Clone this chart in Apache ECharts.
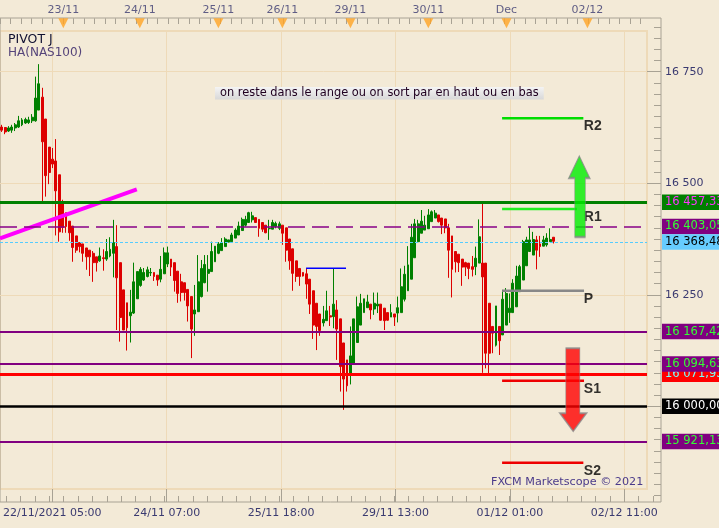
<!DOCTYPE html>
<html><head><meta charset="utf-8">
<script src="https://cdn.jsdelivr.net/npm/echarts@6.0.0/dist/echarts.min.js"></script>
<style>html,body{margin:0;padding:0;background:#F3EAD7;}#c{width:719px;height:528px;}</style>
</head><body><div id="c"></div><script>
// ---- Heikin-Ashi hourly candles (NAS100) ----
const opens = [16626,16625,16617,16619,16624,16626,16631,16635,16636,16640,
16640,16664,16693,16644,16581,16554,16550,16519,16456,16434,
16415,16404,16382,16367,16364,16355,16350,16343,16335,16326,
16333,16330,16337,16343,16358,16322,16261,16232,16203,16209,
16241,16271,16283,16291,16299,16300,16294,16285,16297,16319,
16330,16322,16303,16279,16277,16262,16246,16207,16212,16246,
16277,16298,16302,16324,16343,16349,16358,16368,16369,16377,
16384,16394,16406,16412,16418,16423,16419,16412,16406,16398,
16397,16403,16399,16406,16400,16375,16353,16326,16309,16300,
16297,16285,16259,16231,16207,16187,16192,16203,16201,16216,
16196,16142,16104,16074,16096,16143,16182,16210,16221,16229,
16218,16225,16229,16220,16210,16200,16207,16209,16210,16240,
16259,16285,16333,16369,16388,16395,16398,16414,16422,16429,
16422,16420,16400,16382,16347,16341,16330,16322,16321,16313,
16313,16321,16321,16321,16231,16179,16137,16179,16160,16182,
16210,16210,16223,16257,16283,16315,16347,16339,16373,16364,
16359,16362,16369,16379];
const closes = [16619,16615,16624,16626,16631,16640,16642,16643,16642,16648,
16691,16723,16593,16517,16524,16543,16483,16391,16401,16403,
16389,16356,16350,16358,16343,16335,16335,16322,16322,16337,
16331,16347,16352,16367,16288,16199,16171,16176,16211,16279,
16302,16307,16300,16306,16300,16291,16283,16307,16344,16344,
16312,16282,16253,16255,16255,16225,16173,16216,16279,16309,
16318,16307,16347,16359,16364,16367,16375,16373,16384,16395,
16404,16419,16419,16434,16427,16412,16399,16397,16389,16399,
16412,16410,16409,16388,16350,16326,16298,16291,16291,16292,
16274,16229,16182,16179,16170,16195,16214,16200,16229,16173,
16089,16061,16046,16113,16196,16223,16231,16241,16234,16216,
16231,16229,16193,16192,16193,16210,16200,16221,16268,16296,
16317,16379,16409,16409,16415,16406,16429,16436,16433,16414,
16406,16400,16350,16307,16324,16322,16312,16312,16309,16307,
16332,16380,16290,16119,16119,16164,16225,16147,16240,16253,
16220,16276,16292,16313,16369,16373,16373,16374,16350,16358,
16373,16377,16374,16370];
const lows = [16615,16610,16615,16613,16617,16624,16628,16633,16633,16635,
16638,16664,16460,16470,16498,16534,16383,16369,16389,16389,
16371,16324,16344,16345,16324,16306,16292,16279,16302,16324,
16304,16326,16334,16289,16171,16145,16171,16125,16143,16207,
16241,16268,16281,16289,16292,16281,16270,16278,16297,16312,
16292,16257,16232,16235,16237,16190,16108,16158,16212,16244,
16276,16257,16302,16324,16341,16349,16358,16368,16369,16377,
16384,16394,16403,16412,16412,16412,16380,16391,16388,16373,
16397,16399,16395,16362,16324,16306,16259,16279,16270,16291,
16241,16207,16151,16126,16158,16179,16192,16180,16175,16104,
16033,15992,16033,16049,16096,16143,16182,16210,16221,16195,
16205,16209,16192,16171,16192,16200,16180,16188,16210,16235,
16259,16285,16333,16369,16388,16395,16398,16414,16422,16412,
16386,16388,16288,16244,16300,16301,16270,16292,16285,16291,
16294,16321,16075,16085,16074,16119,16134,16115,16160,16182,
16187,16210,16223,16257,16283,16315,16347,16339,16307,16335,
16359,16358,16369,16365];
const highs = [16631,16626,16628,16631,16635,16651,16646,16647,16649,16655,
16739,16767,16714,16644,16581,16579,16599,16519,16463,16434,
16415,16404,16382,16367,16364,16355,16350,16348,16335,16356,
16352,16375,16379,16418,16406,16322,16261,16232,16261,16322,
16302,16312,16310,16313,16310,16300,16294,16337,16356,16358,
16330,16322,16303,16297,16277,16262,16246,16272,16339,16328,
16339,16339,16369,16359,16368,16377,16379,16373,16389,16399,
16414,16423,16427,16436,16436,16423,16419,16412,16406,16418,
16418,16414,16414,16406,16400,16375,16353,16326,16309,16300,
16310,16285,16259,16231,16207,16225,16259,16225,16309,16238,
16196,16142,16104,16179,16196,16246,16252,16241,16250,16229,
16255,16255,16229,16220,16210,16229,16207,16246,16309,16315,
16359,16409,16420,16418,16440,16427,16442,16439,16440,16429,
16422,16420,16409,16382,16347,16341,16330,16324,16321,16337,
16358,16419,16456,16321,16231,16179,16225,16179,16261,16265,
16253,16285,16315,16317,16373,16380,16403,16391,16382,16382,
16382,16388,16399,16379];

// ---- axis text ----
const topDayLabels = ['23/11','24/11','25/11','26/11','29/11','30/11','Dec','02/12'];
const topDayPos = [18.2, 40.8, 64.0, 82.9, 103.0, 126.0, 149.1, 173.0]; // bar index
const bottomLabels = ['22/11/2021 05:00','24/11 07:00','25/11 18:00','29/11 13:00','01/12 01:00','02/12 11:00'];
const yTickLabels = [16000, 16250, 16500, 16750];

// ---- pivot levels (full width) ----
const pivotLevels = [16457.33, 16403.05, 16368.48, 16167.42, 16071.93, 16094.63, 16000.00, 15921.13];
// ---- daily pivot segments ----
const segNames = ['R2','R1','P','S1','S2'];
const segLevels = [16645.6, 16442.3, 16259.2, 16057.4, 15873.6];
const segStart = 147.8;
const segEnd = [171.8, 169.9, 172.0, 172.0, 171.8];
// ---- drawn objects ----
const trendX = [-0.5, 39.9];
const trendY = [16376.6, 16486.5];
const blueX = [89.9, 101.7];
const blueY = 16309.4;
const upArrow = [170.6, 16470.3];
const downArrow = [168.8, 16037.0];

// ---- styles ----
const FONT = 'DejaVu Sans';
const AXT = '#3A3A70';
const TICK = '#A8A294';
const GL = '#EEDAB8';
const BG = '#F3EAD7';
const pivotColors = ['#008000','#880088','#55CCFF','#800080','#FF0000','#800080','#000000','#800080'];
const pivotWidths = [3, 1.7, 1.2, 2, 3, 2, 2.5, 2];
const pivotTypes = ['solid',[17,7],[3,2],'solid','solid','solid','solid','solid'];
const tagBg = ['#008000','#800080','#66CCFF','#800080','#FF0000','#800080','#000000','#800080'];
const tagFg = ['#FF33FF','#33FF33','#000000','#33FF33','#77FFFF','#33FF33','#FFFFFF','#33FF33'];
const segColors = ['#00DD00','#22EE22','#888888','#EE0000','#EE0000'];

function thou(v){ return String(Math.round(v)).replace(/\B(?=(\d{3})+(?!\d))/g,' '); }
function tag(v){ const p = v.toFixed(2).split('.'); return p[0].replace(/\B(?=(\d{3})+(?!\d))/g,' ') + ',' + p[1]; }

const candles = opens.map((o,i)=>[i, o, closes[i], lows[i], highs[i]]);

const series = [];
series.push({
  type:'candlestick', xAxisIndex:0, yAxisIndex:0, data:candles, barWidth:2.4,
  itemStyle:{color:'#008000', color0:'#DD0000', borderColor:'#008000', borderColor0:'#DD0000', borderWidth:1},
  markLine:{silent:true, symbol:['none','none'], animation:false,
    data: pivotLevels.map((v,i)=>({yAxis:v,
      lineStyle:{color:pivotColors[i], width:pivotWidths[i], type:pivotTypes[i]},
      label:{show:true, position:'end', distance:15, formatter:tag(v), color:tagFg[i], backgroundColor:tagBg[i],
        padding:[2,30,2,3], fontSize:11.5, fontFamily:FONT, lineHeight:11.5}}))}
});
series.push({type:'line', xAxisIndex:0, yAxisIndex:0, symbol:'none', data:[[trendX[0],trendY[0]],[trendX[1],trendY[1]]],
  lineStyle:{color:'#FF00FF', width:4}, z:4});
series.push({type:'line', xAxisIndex:0, yAxisIndex:0, symbol:'none', data:[[blueX[0],blueY],[blueX[1],blueY]],
  lineStyle:{color:'#0000FF', width:1.5}, z:4});
segNames.forEach((n,i)=>{
  series.push({type:'line', xAxisIndex:0, yAxisIndex:0, symbol:'none', data:[[segStart,segLevels[i]],[segEnd[i],segLevels[i]]],
    lineStyle:{color:segColors[i], width:2.5}, z:4});
});
series.push({type:'scatter', xAxisIndex:0, yAxisIndex:0, symbolSize:1, itemStyle:{color:'transparent'}, z:5,
  data: segNames.map((n,i)=>({name:n, value:[171.8, segLevels[i]]})),
  label:{show:true, position:'right', distance:0, offset:[0,8], formatter:'{b}', color:'#000', fontSize:14, fontWeight:'bold', fontFamily:'Liberation Sans'}});
series.push({type:'scatter', xAxisIndex:0, yAxisIndex:0, z:8, silent:true,
  data:[
    {value:upArrow, symbol:'path://M10.5,0 L21,22 L16.5,22 L16.5,81 L6,81 L6,22 L0,22 Z', symbolSize:[21,81],
      itemStyle:{color:'#00EE00', borderColor:'#8A8A8A', borderWidth:1.2}},
    {value:downArrow, symbol:'path://M6,0 L20,0 L20,65 L26.7,65 L13.35,83 L0,65 L6,65 Z', symbolSize:[26.7,83],
      itemStyle:{color:'#FF0000', borderColor:'#8A8A8A', borderWidth:1.2}}
  ]});
series.push({type:'scatter', xAxisIndex:7, yAxisIndex:7, symbol:'triangle', symbolRotate:180, symbolSize:[10,10],
  itemStyle:{color:'#FFA424'}, z:6,
  data: topDayPos.map((x,i)=>({name:topDayLabels[i], value:[x,0.59]})),
  label:{show:true, position:'top', distance:3, formatter:'{b}', color:AXT, fontSize:11, fontFamily:FONT}});

const hidden = (g,min,max)=>({gridIndex:g, type:'value', min:min, max:max, show:false, axisLine:{onZero:false}});

const option = {
  animation:false,
  backgroundColor:BG,
  textStyle:{fontFamily:FONT},
  title:[
    {text:'PIVOT J', subtext:'HA(NAS100)', left:8, top:33, padding:0, itemGap:1,
      textStyle:{fontSize:12.5, fontWeight:'normal', color:'#101030', fontFamily:FONT},
      subtextStyle:{fontSize:12, color:'#55447A', fontFamily:FONT}},
    {text:'on reste dans le range ou on sort par en haut ou en bas', left:215, top:87, padding:[0,5,0,5],
      backgroundColor:new echarts.graphic.LinearGradient(0,0,0,1,[{offset:0,color:'#F4F4F4'},{offset:1,color:'#D8D8D8'}]),
      textStyle:{fontSize:11.4, lineHeight:12.5, fontWeight:'normal', color:'#200020', fontFamily:FONT}},
    {text:'FXCM Marketscope \u00a9 2021', left:491, top:477, padding:0,
      textStyle:{fontSize:11.2, fontWeight:'normal', color:'#4A3A8A', fontFamily:FONT}}
  ],
  grid:[
    {left:0, right:72, top:31, bottom:39, show:true, backgroundColor:BG, borderColor:GL, borderWidth:2},
    {left:-1, right:58, top:18, bottom:26, show:true, backgroundColor:'transparent', borderColor:TICK, borderWidth:1},
    {left:49.3, right:94.7, top:31, bottom:39},
    {left:6.2, right:65.9, top:31, bottom:39},
    {left:0, right:72, top:71.7, bottom:121.7},
    {left:0, right:72, top:27.1, bottom:32.5},
    {left:0, right:78.5, top:31, bottom:39},
    {left:0, right:72, top:18, bottom:497}
  ],
  xAxis:[
    hidden(0,-0.5,190.6),
    hidden(1,0,1),
    {gridIndex:2, type:'value', min:0, max:575, interval:115, position:'bottom', offset:13,
      axisLine:{show:false, onZero:false}, axisTick:{show:true, inside:true, length:13, lineStyle:{color:TICK}},
      axisLabel:{margin:6, color:AXT, fontSize:11, fontFamily:FONT,
        formatter:v=>{const k=Math.round(v/115); return Math.abs(v-k*115)<1e-6 ? (bottomLabels[k]||'') : '';}},
      splitLine:{show:true, lineStyle:{color:GL, width:1}}},
    {gridIndex:3, type:'value', min:0, max:45, interval:1, position:'bottom', offset:13,
      axisLine:{show:false, onZero:false}, axisTick:{show:true, inside:true, length:6, lineStyle:{color:TICK}},
      axisLabel:{show:false}, splitLine:{show:false}},
    hidden(4,0,1),
    hidden(5,0,1),
    {gridIndex:6, type:'value', min:0, max:640.5, interval:10.5, position:'top', offset:12.7,
      axisLine:{show:false, onZero:false}, axisTick:{show:true, inside:true, length:5.7, lineStyle:{color:TICK}},
      axisLabel:{show:false}, splitLine:{show:false}},
    hidden(7,-0.5,190.6)
  ],
  yAxis:[
    hidden(0,15814.6,16841.3),
    hidden(1,0,1),
    hidden(2,0,1),
    hidden(3,0,1),
    {gridIndex:4, type:'value', min:yTickLabels[0], max:yTickLabels[yTickLabels.length-1], interval:250, position:'right', offset:14,
      axisLine:{show:false, onZero:false}, axisTick:{show:true, inside:true, length:14, lineStyle:{color:TICK}},
      axisLabel:{margin:4, color:AXT, fontSize:11, fontFamily:FONT,
        formatter:v=> yTickLabels.indexOf(v)>=0 ? thou(v) : ''},
      splitLine:{show:true, lineStyle:{color:GL, width:1}}},
    {gridIndex:5, type:'value', min:15800, max:16850, interval:25, position:'right', offset:14,
      axisLine:{show:false, onZero:false}, axisTick:{show:true, inside:true, length:7, lineStyle:{color:TICK}},
      axisLabel:{show:false}, splitLine:{show:false}},
    hidden(6,0,1),
    hidden(7,0,1)
  ],
  series:series
};
const chart = echarts.init(document.getElementById('c'), null, {renderer:'canvas'});
chart.setOption(option);
</script></body></html>
